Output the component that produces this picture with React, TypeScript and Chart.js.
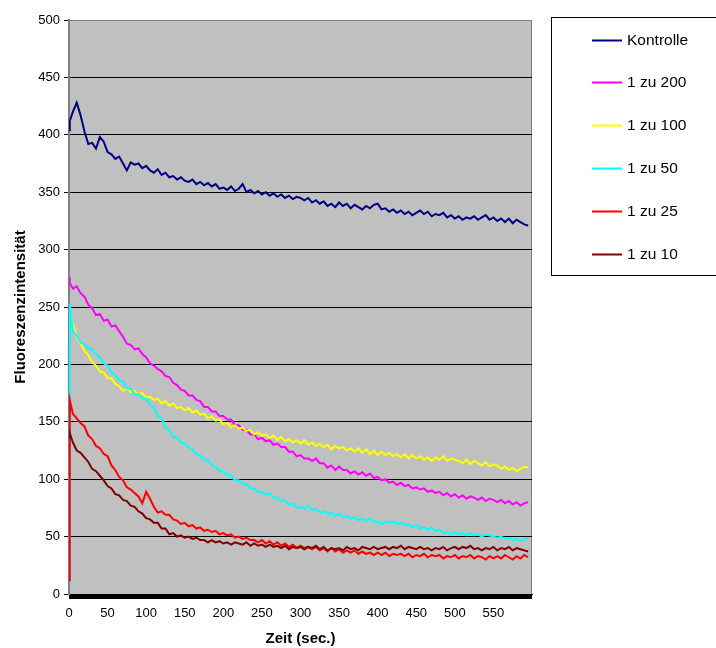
import React, { useEffect, useRef } from 'react';
import { Chart, registerables } from 'chart.js';

Chart.register(...registerables);

// Time axis (seconds): first sample, 1 s, then every 5 s up to 595 s
const times: number[] = [0, 1, ...Array.from({ length: 119 }, (_, i) => (i + 1) * 5)];

const seriesLabels = ['Kontrolle', '1 zu 200', '1 zu 100', '1 zu 50', '1 zu 25', '1 zu 10'];
const seriesColors = ['#000080', '#FF00FF', '#FFFF00', '#00FFFF', '#FF0000', '#800000'];

const kontrolle = [404, 412,
  420, 428, 417, 403, 392, 393, 388, 398, 394, 385,
  383, 379, 381, 375, 369, 376, 374, 375, 371, 373,
  369, 367, 370, 365, 367, 363, 364, 361, 363, 360,
  359, 361, 357, 359, 356, 358, 355, 357, 353, 354,
  352, 355, 351, 353, 357, 350, 352, 349, 351, 348,
  350, 347, 349, 346, 348, 345, 347, 344, 346, 345,
  343, 345, 341, 343, 340, 342, 338, 340, 337, 341,
  338, 340, 336, 339, 337, 335, 338, 336, 339, 340,
  335, 336, 333, 335, 332, 334, 331, 333, 330, 332,
  334, 331, 333, 329, 331, 330, 332, 328, 330, 327,
  329, 326, 328, 327, 329, 326, 328, 330, 326, 328,
  325, 327, 324, 327, 323, 326, 324, 322, 321];

const zu200 = [276, 271,
  266, 268, 262, 259, 252, 249, 243, 244, 238, 239,
  233, 234, 229, 224, 218, 217, 213, 214, 209, 206,
  201, 199, 196, 194, 190, 189, 184, 182, 178, 177,
  173, 173, 169, 168, 163, 163, 159, 159, 155, 155,
  152, 152, 147, 147, 143, 143, 139, 139, 135, 136,
  133, 134, 130, 131, 128, 128, 124, 124, 120, 121,
  118, 118, 116, 118, 114, 114, 110, 112, 108, 111,
  108, 108, 105, 107, 104, 106, 103, 105, 101, 102,
  99, 100, 97, 98, 95, 97, 94, 95, 92, 93,
  91, 92, 89, 90, 88, 89, 86, 88, 85, 87,
  84, 86, 83, 85, 84, 82, 84, 81, 83, 82,
  80, 82, 79, 81, 78, 80, 77, 79, 80];

const zu100 = [243, 241,
  236, 224, 218, 212, 208, 202, 199, 194, 193, 188,
  188, 183, 181, 177, 179, 176, 177, 174, 175, 171,
  172, 169, 170, 166, 168, 164, 166, 162, 163, 160,
  162, 158, 160, 156, 157, 153, 155, 151, 152, 148,
  149, 145, 147, 144, 145, 142, 143, 139, 141, 138,
  139, 136, 138, 134, 137, 133, 135, 132, 134, 131,
  134, 130, 132, 129, 131, 128, 130, 126, 129, 127,
  128, 125, 127, 124, 127, 123, 126, 122, 125, 121,
  124, 121, 123, 120, 122, 119, 122, 118, 121, 118,
  120, 117, 119, 116, 119, 117, 120, 116, 118, 117,
  116, 114, 117, 113, 116, 114, 112, 115, 111, 113,
  112, 109, 111, 108, 110, 107, 109, 111, 110];

const zu50 = [12, 253,
  229, 225, 219, 218, 214, 213, 209, 206, 201, 199,
  193, 191, 186, 185, 179, 179, 174, 174, 170, 170,
  165, 162, 155, 153, 145, 142, 137, 136, 132, 131,
  128, 126, 122, 121, 117, 117, 112, 111, 107, 107,
  103, 103, 99, 99, 96, 96, 92, 92, 89, 89,
  86, 88, 84, 84, 81, 82, 78, 79, 75, 76,
  74, 77, 73, 74, 71, 72, 70, 71, 68, 70,
  67, 68, 65, 67, 64, 66, 64, 66, 63, 63,
  61, 63, 62, 63, 61, 62, 60, 61, 58, 60,
  57, 58, 56, 58, 55, 56, 53, 54, 52, 54,
  52, 53, 51, 53, 51, 52, 50, 52, 51, 50,
  49, 50, 48, 49, 47, 48, 46, 48, 49];

const zu25 = [12, 169,
  157, 153, 149, 146, 138, 135, 129, 127, 122, 120,
  112, 108, 102, 99, 93, 91, 88, 85, 79, 89,
  83, 76, 71, 72, 69, 69, 65, 64, 61, 62,
  59, 60, 57, 58, 55, 56, 54, 55, 52, 53,
  51, 52, 49, 50, 48, 49, 47, 47, 45, 47,
  44, 46, 43, 45, 42, 44, 41, 43, 40, 42,
  40, 41, 39, 41, 38, 40, 37, 40, 37, 39,
  36, 38, 36, 38, 35, 37, 35, 36, 34, 36,
  34, 36, 33, 35, 34, 35, 33, 35, 32, 34,
  33, 35, 32, 34, 33, 34, 31, 33, 32, 34,
  31, 33, 32, 34, 31, 33, 32, 30, 33, 31,
  33, 31, 34, 32, 30, 33, 31, 34, 32];

const zu10 = [136, 140,
  132, 125, 123, 119, 115, 109, 107, 103, 99, 94,
  92, 87, 86, 82, 81, 77, 76, 72, 70, 66,
  65, 62, 62, 57, 57, 52, 53, 50, 51, 49,
  50, 48, 49, 47, 47, 45, 47, 45, 46, 44,
  45, 43, 45, 44, 43, 45, 42, 44, 42, 43,
  41, 43, 41, 42, 40, 42, 39, 41, 40, 41,
  39, 41, 40, 42, 39, 41, 38, 40, 39, 40,
  38, 41, 39, 40, 38, 41, 40, 39, 41, 39,
  40, 41, 39, 41, 40, 42, 39, 41, 40, 39,
  41, 39, 40, 38, 40, 39, 41, 38, 40, 41,
  39, 41, 40, 42, 39, 40, 38, 40, 39, 41,
  38, 40, 39, 41, 38, 40, 39, 38, 37];

const seriesValues = [kontrolle, zu200, zu100, zu50, zu25, zu10];

const xLabelStep = 50;
const xLabelMax = 550;
const yTickStep = 50;

const FONT = "'Liberation Sans', Arial, Helvetica, sans-serif";

const framePlugin = {
  id: 'frame',
  beforeDraw(chart: any) {
    const { ctx, chartArea } = chart;
    ctx.save();
    ctx.fillStyle = '#C0C0C0';
    ctx.fillRect(chartArea.left, chartArea.top, chartArea.right - chartArea.left, chartArea.bottom - chartArea.top);
    ctx.strokeStyle = '#808080';
    ctx.lineWidth = 1;
    ctx.beginPath();
    ctx.moveTo(Math.round(chartArea.right) - 0.5, chartArea.top);
    ctx.lineTo(Math.round(chartArea.right) - 0.5, chartArea.bottom);
    ctx.stroke();
    ctx.restore();
  },
  afterDraw(chart: any) {
    const { ctx } = chart;
    ctx.save();
    ctx.strokeStyle = '#000';
    ctx.lineWidth = 1;
    ctx.strokeRect(551.5, 17.5, 200, 258);
    ctx.font = `15.5px ${FONT}`;
    ctx.textBaseline = 'middle';
    ctx.textAlign = 'left';
    chart.data.datasets.forEach((ds: any, i: number) => {
      const y = Math.round(39.5 + i * 42.9) + 0.5;
      ctx.strokeStyle = ds.borderColor;
      ctx.lineWidth = 2;
      ctx.beginPath();
      ctx.moveTo(592, y);
      ctx.lineTo(622, y);
      ctx.stroke();
      ctx.fillStyle = '#000';
      ctx.fillText(ds.label, 627, y);
    });
    ctx.restore();
  },
};

export default function App() {
  const ref = useRef<HTMLCanvasElement>(null);
  useEffect(() => {
    if (!ref.current) return;
    const chart = new Chart(ref.current, {
      type: 'line',
      data: {
        datasets: seriesLabels.map((label, i) => ({
          label,
          data: times.map((t, j) => ({ x: t, y: seriesValues[i][j] })),
          borderColor: seriesColors[i],
          backgroundColor: seriesColors[i],
          borderWidth: 2,
          pointRadius: 0,
          tension: 0,
          fill: false,
          order: seriesLabels.length - 1 - i,
        })),
      },
      options: {
        responsive: false,
        animation: false,
        devicePixelRatio: 1,
        layout: { padding: { top: 20, right: 184, left: 0, bottom: 0 } },
        plugins: { legend: { display: false }, tooltip: { enabled: false } },
        scales: {
          x: {
            type: 'linear',
            min: 0,
            max: 600,
            afterBuildTicks: (scale: any) => {
              scale.ticks = Array.from({ length: 600 }, (_, i) => ({ value: i }));
            },
            afterFit: (scale: any) => { scale.height = 54; },
            ticks: {
              autoSkip: false,
              maxRotation: 0,
              minRotation: 0,
              padding: 7,
              color: '#000',
              font: { family: FONT, size: 13 },
              callback: (v: any) => (v % xLabelStep === 0 && v <= xLabelMax ? String(v) : ''),
            },
            grid: { drawOnChartArea: false, drawTicks: true, tickLength: 5, color: '#000', lineWidth: 1 },
            border: { display: true, color: '#000', width: 1 },
            title: {
              display: true,
              text: 'Zeit (sec.)',
              color: '#000',
              font: { family: FONT, size: 15, weight: 'bold' },
              padding: { top: 0, bottom: 0 },
            },
          },
          y: {
            min: 0,
            max: 500,
            afterFit: (scale: any) => { scale.width = 69; },
            ticks: {
              stepSize: yTickStep,
              padding: 4,
              color: '#000',
              font: { family: FONT, size: 13 },
            },
            grid: {
              color: (c: any) => (c.tick && c.tick.value === 500 ? '#808080' : '#000'),
              tickColor: '#000',
              lineWidth: 1,
              tickLength: 5,
            },
            border: { display: true, color: '#808080', width: 2 },
            title: {
              display: true,
              text: 'Fluoreszenzintensität',
              color: '#000',
              font: { family: FONT, size: 15, weight: 'bold' },
              padding: { top: 12, bottom: 0 },
            },
          },
        },
      },
      plugins: [framePlugin],
    } as any);
    return () => chart.destroy();
  }, []);
  return (
    <div style={{ position: 'fixed', left: 0, top: 0, width: 716, height: 648, background: '#fff' }}>
      <canvas ref={ref} width={716} height={648} style={{ display: 'block' }} />
    </div>
  );
}
